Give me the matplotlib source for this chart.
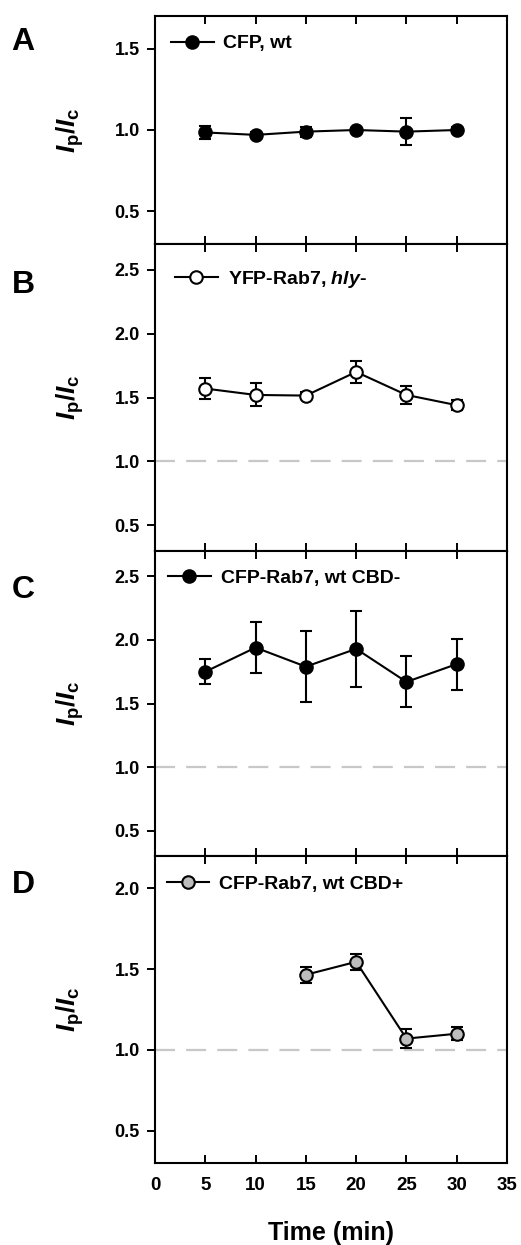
import matplotlib
matplotlib.use("Agg")
import matplotlib.pyplot as plt

plt.rcParams['font.family'] = ['Liberation Sans', 'DejaVu Sans']
plt.rcParams['font.weight'] = 'bold'
plt.rcParams['mathtext.fontset'] = 'custom'
plt.rcParams['mathtext.rm'] = 'Liberation Sans:bold'
plt.rcParams['mathtext.it'] = 'Liberation Sans:italic:bold'
plt.rcParams['mathtext.bf'] = 'Liberation Sans:bold'

# ******* data *******
time = [5, 10, 15, 20, 25, 30]
time_d = [15, 20, 25, 30]

cfp_wt = [0.985, 0.97, 0.99, 1.0, 0.99, 1.0]
cfp_wt_err = [0.04, 0.015, 0.03, 0.015, 0.085, 0.02]

yfp_hly = [1.57, 1.52, 1.515, 1.70, 1.52, 1.44]
yfp_hly_err = [0.08, 0.09, 0.03, 0.085, 0.07, 0.04]

cbd_minus = [1.75, 1.94, 1.79, 1.93, 1.67, 1.81]
cbd_minus_err = [0.10, 0.20, 0.28, 0.30, 0.20, 0.20]

cbd_plus = [1.465, 1.545, 1.07, 1.10]
cbd_plus_err = [0.05, 0.05, 0.06, 0.04]

labels = ["CFP, wt", r"YFP-Rab7, $\mathit{hly}$-", "CFP-Rab7, wt CBD-", "CFP-Rab7, wt CBD+"]
letters = ["A", "B", "C", "D"]

# ******* layout *******
W, H = 521, 1245
fig = plt.figure(figsize=(W / 100, H / 100), dpi=100)
left, width = 155 / W, 352 / W
# (top px, bottom px)
boxes = [(16, 244), (244, 551), (551, 856), (856, 1163)]
ylims = [(0.3, 1.7), (0.3, 2.7), (0.3, 2.7), (0.3, 2.2)]
yticks = [[0.5, 1.0, 1.5], [0.5, 1.0, 1.5, 2.0, 2.5], [0.5, 1.0, 1.5, 2.0, 2.5], [0.5, 1.0, 1.5, 2.0]]
leg_pos = [(0.045, 0.918), (0.057, 0.92), (0.037, 0.94), (0.033, 0.938)]
letter_y = [42, 285, 590, 885]

series = [
    (time, cfp_wt, cfp_wt_err, "black"),
    (time, yfp_hly, yfp_hly_err, "white"),
    (time, cbd_minus, cbd_minus_err, "black"),
    (time_d, cbd_plus, cbd_plus_err, "#bdbdbd"),
]

for i, (top, bot) in enumerate(boxes):
    ax = fig.add_axes([left, 1 - bot / H, width, (bot - top) / H])
    x, y, e, fc = series[i]
    if i > 0:
        ax.axhline(1.0, color="#c8c8c8", lw=1.6, dashes=(9, 5), zorder=1)
    ax.errorbar(x, y, yerr=e, fmt="none", ecolor="black", elinewidth=1.5,
                capsize=4.5, capthick=1.5, zorder=2)
    ax.plot(x, y, color="black", lw=1.5, marker="o", ms=9,
            mfc=fc, mec="black", mew=1.5, label=labels[i], zorder=3)
    ax.set_xlim(0, 35)
    ax.set_ylim(*ylims[i])
    ax.set_xticks(range(0, 36, 5))
    ax.set_yticks(yticks[i])
    ax.yaxis.set_major_formatter(matplotlib.ticker.FormatStrFormatter("%.1f"))
    ax.tick_params(axis="x", direction="in", top=True, length=6, width=1.4,
                   labelsize=13.5, pad=10)
    ax.tick_params(axis="y", direction="out", length=6, width=1.4,
                   labelsize=13, pad=5)
    if i < 3:
        ax.tick_params(axis="x", labelbottom=False)
    for s in ax.spines.values():
        s.set_linewidth(1.5)
    ax.legend(loc="upper left", bbox_to_anchor=leg_pos[i], borderaxespad=0,
              borderpad=0, frameon=False, fontsize=14, handlelength=2.2,
              handletextpad=0.5, numpoints=1)
    fig.text(23 / W, 1 - letter_y[i] / H, letters[i], fontsize=23,
             fontweight="bold", ha="center", va="center")
    fig.text(70 / W, 1 - (top + bot) / 2 / H,
             r"$\mathit{I}_\mathrm{p}\mathit{/I}_\mathrm{c}$", fontsize=19,
             rotation=90, ha="center", va="center")

fig.text(331 / W, 1 - 1233 / H, "Time (min)", fontsize=18, fontweight="bold",
         ha="center", va="center")

fig.savefig("out.png", dpi=100)
